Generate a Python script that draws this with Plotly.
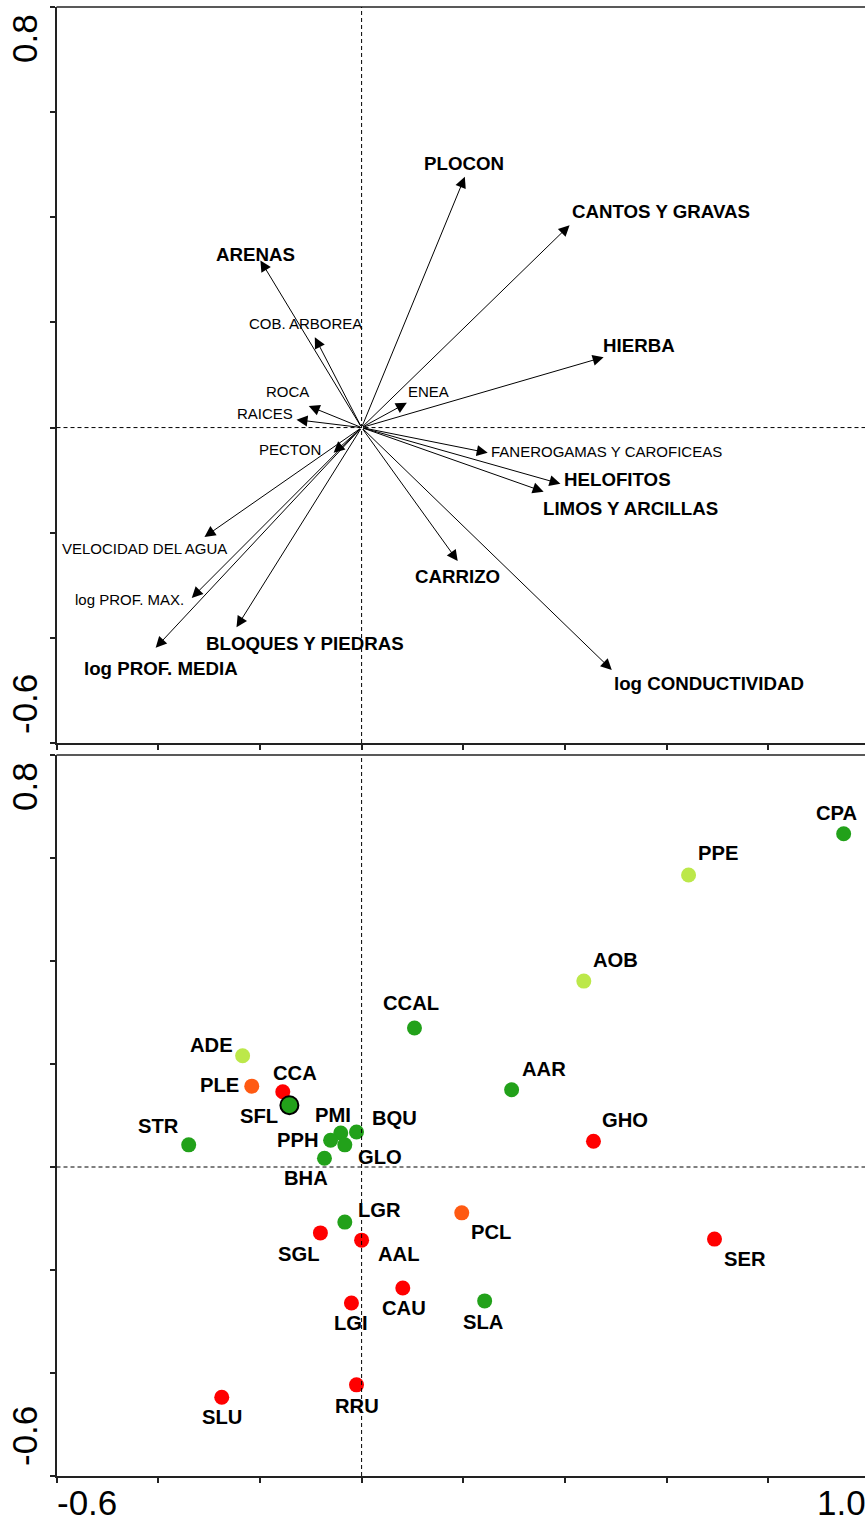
import plotly.graph_objects as go

# ---------------------------------------------------------------------------
# Environmental variables (biplot arrows): arrow tips on axes 1 and 2
# ---------------------------------------------------------------------------
variables = [
    "PLOCON", "CANTOS Y GRAVAS", "ARENAS", "COB. ARBOREA", "HIERBA", "ROCA",
    "ENEA", "RAICES", "PECTON", "FANEROGAMAS Y CAROFICEAS", "HELOFITOS",
    "LIMOS Y ARCILLAS", "CARRIZO", "log CONDUCTIVIDAD", "VELOCIDAD DEL AGUA",
    "log PROF. MAX.", "log PROF. MEDIA", "BLOQUES Y PIEDRAS",
]
var_eje1 = [0.203, 0.409, -0.199, -0.092, 0.476, -0.104, 0.089, -0.128, -0.055,
            0.248, 0.391, 0.358, 0.189, 0.492, -0.309, -0.334, -0.405, -0.246]
var_eje2 = [0.477, 0.385, 0.318, 0.172, 0.134, 0.041, 0.047, 0.015, -0.048,
            -0.048, -0.107, -0.122, -0.254, -0.461, -0.208, -0.324, -0.419, -0.380]
# variables written in large bold type
var_principales = ["PLOCON", "CANTOS Y GRAVAS", "ARENAS", "HIERBA", "HELOFITOS",
                   "LIMOS Y ARCILLAS", "CARRIZO", "log CONDUCTIVIDAD",
                   "log PROF. MEDIA", "BLOQUES Y PIEDRAS"]

# ---------------------------------------------------------------------------
# Sampling sites: scores on axes 1 and 2 and group
# ---------------------------------------------------------------------------
sitios = ["CPA", "PPE", "AOB", "CCAL", "ADE", "PLE", "CCA", "SFL", "STR", "PMI",
          "BQU", "PPH", "GLO", "BHA", "AAR", "GHO", "LGR", "PCL", "SGL", "AAL",
          "SER", "CAU", "LGI", "SLA", "SLU", "RRU"]
sit_eje1 = [0.948, 0.643, 0.437, 0.104, -0.234, -0.216, -0.155, -0.142, -0.340,
            -0.041, -0.010, -0.061, -0.033, -0.073, 0.295, 0.456, -0.033, 0.197,
            -0.081, 0.000, 0.694, 0.081, -0.020, 0.242, -0.275, -0.010]
sit_eje2 = [0.647, 0.567, 0.361, 0.270, 0.216, 0.157, 0.146, 0.120, 0.043,
            0.066, 0.068, 0.052, 0.043, 0.017, 0.150, 0.050, -0.107, -0.089,
            -0.128, -0.142, -0.140, -0.235, -0.264, -0.260, -0.447, -0.423]
grupo = ["A", "C", "C", "A", "C", "B", "D", "A", "A", "A",
         "A", "A", "A", "A", "A", "D", "A", "B", "D", "D",
         "D", "D", "D", "A", "D", "D"]
sitio_destacado = "SFL"

# ---------------------------------------------------------------------------
# Styling
# ---------------------------------------------------------------------------
FONT = "Liberation Sans, Arial, sans-serif"
colores_grupo = {"A": "#22A11A", "B": "#FF5A12", "C": "#BCE84A", "D": "#FF0000"}

# label offsets (pixels) from arrow tip / site marker
desp_var = {
    "PLOCON": (-1, 13), "CANTOS Y GRAVAS": (91, 14), "ARENAS": (-5, 6),
    "COB. ARBOREA": (-9, 14), "HIERBA": (35, 12), "ROCA": (-21, 15),
    "ENEA": (22, 11), "RAICES": (-32, 6), "PECTON": (-44, 3),
    "FANEROGAMAS Y CAROFICEAS": (119, 1), "HELOFITOS": (57, 4),
    "LIMOS Y ARCILLAS": (87, -17), "CARRIZO": (0, -15),
    "log CONDUCTIVIDAD": (97, -14), "VELOCIDAD DEL AGUA": (-60, -12),
    "log PROF. MAX.": (-62, -2), "log PROF. MEDIA": (5, -21),
    "BLOQUES Y PIEDRAS": (68, -16),
}
desp_sit = {
    "CPA": (-7, 21), "PPE": (29, 22), "AOB": (32, 21), "CCAL": (-3, 25),
    "ADE": (-31, 11), "PLE": (-32, 1), "CCA": (12, 19), "SFL": (-30, -11),
    "STR": (-30, 19), "PMI": (-8, 18), "BQU": (38, 14), "PPH": (-33, 0),
    "GLO": (35, -12), "BHA": (-18, -20), "AAR": (32, 21), "GHO": (32, 21),
    "LGR": (35, 12), "PCL": (29, -19), "SGL": (-21, -21), "AAL": (37, -14),
    "SER": (30, -20), "CAU": (1, -20), "LGI": (0, -20), "SLA": (-1, -21),
    "SLU": (0, -20), "RRU": (0, -21),
}

W, H = 865, 1521
x_dom = [56.5 / W, 1.0]
y_dom_sup = [1 - 743 / H, 1 - 7 / H]
y_dom_inf = [1 - 1476 / H, 1 - 755 / H]
x_rango = [-0.6, -0.6 + (W - 56.5) / 508.5]
y_rango = [-0.6, 0.8]
marcas = [-0.6, -0.4, -0.2, 0.0, 0.2, 0.4, 0.6, 0.8]
LINEA = "#222222"

fig = go.Figure()

# ---------------------------- site scores ----------------------------------
orden = [i for i in range(len(sitios)) if sitios[i] != sitio_destacado] + \
        [sitios.index(sitio_destacado)]
fig.add_trace(go.Scatter(
    x=[sit_eje1[i] for i in orden],
    y=[sit_eje2[i] for i in orden],
    mode="markers",
    marker=dict(
        color=[colores_grupo[grupo[i]] for i in orden],
        size=[18 if sitios[i] == sitio_destacado else 15 for i in orden],
        opacity=1,
        line=dict(color="black",
                  width=[2 if sitios[i] == sitio_destacado else 0 for i in orden]),
    ),
    xaxis="x2", yaxis="y2", showlegend=False, hoverinfo="skip",
))

anotaciones = []

# ---------------------------- biplot arrows --------------------------------
for nombre, vx, vy in zip(variables, var_eje1, var_eje2):
    anotaciones.append(dict(
        x=vx, y=vy, ax=0, ay=0, xref="x", yref="y", axref="x", ayref="y",
        text="", showarrow=True, arrowhead=2, arrowsize=2.2, arrowwidth=1,
        arrowcolor="black", standoff=0, startstandoff=0,
    ))
    grande = nombre in var_principales
    dx, dy = desp_var[nombre]
    anotaciones.append(dict(
        x=vx, y=vy, xref="x", yref="y", text=f"<b>{nombre}</b>" if grande else nombre,
        showarrow=False, xshift=dx, yshift=dy, xanchor="center", yanchor="middle",
        font=dict(family=FONT, size=18.7 if grande else 15, color="black"),
    ))

# ---------------------------- site labels ----------------------------------
for nombre, sx, sy in zip(sitios, sit_eje1, sit_eje2):
    dx, dy = desp_sit[nombre]
    anotaciones.append(dict(
        x=sx, y=sy, xref="x2", yref="y2", text=f"<b>{nombre}</b>",
        showarrow=False, xshift=dx, yshift=dy, xanchor="center", yanchor="middle",
        font=dict(family=FONT, size=20.2, color="black"),
    ))

# ---------------------------- axis end labels ------------------------------
def etiqueta(texto, px, py, angulo=0):
    return dict(x=px / W, y=1 - py / H, xref="paper", yref="paper", text=texto,
                showarrow=False, textangle=angulo, xanchor="center",
                yanchor="middle", font=dict(family=FONT, size=35, color="black"))

anotaciones += [
    etiqueta("0.8", 24, 39, -90), etiqueta("-0.6", 24, 704, -90),
    etiqueta("0.8", 24, 787, -90), etiqueta("-0.6", 24, 1436, -90),
    etiqueta("-0.6", 87, 1502), etiqueta("1.0", 841, 1502),
]

# ---------------------------- frame and origin lines -----------------------
formas = []
for xr, yr in (("x", "y"), ("x2", "y2")):
    formas.append(dict(type="line", xref=f"{xr} domain", yref=f"{yr} domain",
                       x0=0, x1=1, y0=1, y1=1, line=dict(color=LINEA, width=1.5)))
    formas.append(dict(type="line", xref=xr, yref=f"{yr} domain", x0=0, x1=0,
                       y0=0, y1=1, line=dict(color="black", width=1, dash="4px,3px")))
    formas.append(dict(type="line", xref=f"{xr} domain", yref=yr, x0=0, x1=1,
                       y0=0, y1=0, line=dict(color="black", width=1, dash="4px,3px")))

eje_x = dict(domain=x_dom, range=x_rango, tickvals=marcas, ticks="outside",
             ticklen=5, tickwidth=1.5, tickcolor=LINEA, showticklabels=False,
             showline=True, linecolor=LINEA, linewidth=1.5, showgrid=False,
             zeroline=False, fixedrange=True)
eje_y = dict(range=y_rango, tickvals=marcas, ticks="outside", ticklen=5,
             tickwidth=1.5, tickcolor=LINEA, showticklabels=False, showline=True,
             linecolor=LINEA, linewidth=1.5, showgrid=False, zeroline=False,
             fixedrange=True)

fig.update_layout(
    width=W, height=H, margin=dict(l=0, r=0, t=0, b=0),
    paper_bgcolor="white", plot_bgcolor="white",
    xaxis=dict(eje_x, anchor="y"),
    yaxis=dict(eje_y, domain=y_dom_sup, anchor="x"),
    xaxis2=dict(eje_x, anchor="y2"),
    yaxis2=dict(eje_y, domain=y_dom_inf, anchor="x2"),
    annotations=anotaciones, shapes=formas, showlegend=False,
)

fig.write_html("out.html")
